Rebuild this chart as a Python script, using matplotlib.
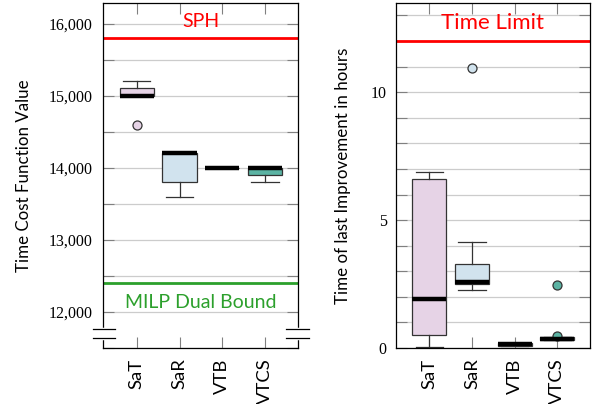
import matplotlib.pyplot as plt
import matplotlib.transforms as mtransforms
from matplotlib.ticker import MultipleLocator, FuncFormatter

categories = ["SaT", "SaR", "VTB", "VTCS"]
box_colors = ["#e6d3e6", "#d1e3ee", "#b9bfe0", "#5bb3a3"]

# time cost function value per method
cost_q1 = [15000, 13800, 14000, 13900]
cost_med = [15000, 14200, 14000, 14000]
cost_q3 = [15100, 14200, 14000, 14000]
cost_lo = [15000, 13600, 14000, 13800]
cost_hi = [15200, 14200, 14000, 14000]
cost_fliers = [[14600], [], [], []]
sph_value = 15800
milp_dual_bound = 12400

# time of last improvement (hours) per method
time_q1 = [0.5, 2.5, 0.08, 0.3]
time_med = [1.9, 2.6, 0.14, 0.36]
time_q3 = [6.6, 3.3, 0.2, 0.42]
time_lo = [0.03, 2.28, 0.08, 0.3]
time_hi = [6.9, 4.15, 0.2, 0.42]
time_fliers = [[], [10.95], [], [0.45, 2.45]]
time_limit = 12

SANS = "Lato"
SERIF = "Liberation Serif"
EDGE = "#333333"
TICKC = "#808080"


def draw_boxes(ax, q1, med, q3, lo, hi, fliers):
    stats = []
    for i, c in enumerate(categories):
        stats.append(dict(label=c, q1=q1[i], med=med[i], q3=q3[i],
                          whislo=lo[i], whishi=hi[i], fliers=fliers[i]))
    bp = ax.bxp(stats, positions=[1, 2, 3, 4], widths=0.8, capwidths=0.64,
                patch_artist=True, showfliers=True,
                boxprops=dict(edgecolor=EDGE, linewidth=0.9),
                medianprops=dict(color="black", linewidth=3.2, solid_capstyle="butt"),
                whiskerprops=dict(color=EDGE, linewidth=0.9),
                capprops=dict(color=EDGE, linewidth=0.9),
                flierprops=dict(marker="o", markersize=6.5, markeredgecolor=EDGE,
                                markeredgewidth=0.9))
    for patch, fl, col in zip(bp["boxes"], bp["fliers"], box_colors):
        patch.set_facecolor(col)
        fl.set_markerfacecolor(col)


def style_axes(ax, major, minor, pad):
    ax.set_axisbelow(True)
    ax.yaxis.set_major_locator(MultipleLocator(major))
    ax.yaxis.set_minor_locator(MultipleLocator(minor))
    ax.grid(True, axis="y", which="both", color="#cccccc", linewidth=0.9)
    ax.tick_params(axis="both", which="both", direction="in", length=8,
                   color=TICKC, width=0.8, top=True, right=True)
    ax.tick_params(axis="y", which="major", pad=pad, labelsize=11.5)
    ax.tick_params(axis="x", pad=7.5, labelsize=13.3)
    ax.set_xlim(0.21, 4.77)
    ax.set_xticks([1, 2, 3, 4])
    ax.set_xticklabels(categories, rotation=90, fontfamily=SANS)
    for sp in ax.spines.values():
        sp.set_linewidth(0.9)


fig = plt.figure(figsize=(6.0, 4.04), dpi=100)
ax1 = fig.add_axes([0.1717, 0.1386, 0.325, 0.8547])
ax2 = fig.add_axes([0.6595, 0.1386, 0.3238, 0.8547])

# left panel
draw_boxes(ax1, cost_q1, cost_med, cost_q3, cost_lo, cost_hi, cost_fliers)
ax1.set_ylim(11500, 16290)
style_axes(ax1, 1000, 500, 7.5)
ax1.yaxis.set_major_formatter(FuncFormatter(lambda v, p: f"{int(v):,}"))
for lab in ax1.get_yticklabels():
    lab.set_fontfamily(SERIF)
ax1.set_ylabel("Time Cost Function Value", fontfamily=SANS, fontsize=12.2,
               va="center", ha="center")
ax1.yaxis.set_label_coords(-0.407, 0.5)

tr1 = mtransforms.blended_transform_factory(ax1.transAxes, ax1.transData)
ax1.axhline(sph_value, color="red", linewidth=2)
ax1.axhline(milp_dual_bound, color="#2ca02c", linewidth=2)
ax1.annotate("SPH", xy=(0.5, sph_value), xycoords=tr1, xytext=(0, 7.7),
             textcoords="offset points", ha="center", va="baseline",
             color="red", fontsize=14, fontfamily=SANS)
ax1.annotate("MILP Dual Bound", xy=(0.5, milp_dual_bound), xycoords=tr1,
             xytext=(0, -17.7), textcoords="offset points", ha="center",
             va="baseline", color="#2ca02c", fontsize=14, fontfamily=SANS)

# axis break marks on both vertical spines
brk_lo, brk_hi = 11640, 11760
for xs, xe, xc in [(-0.051, 0.06, 0.0), (0.94, 1.056, 1.0)]:
    ax1.plot([xc, xc], [brk_lo, brk_hi], transform=tr1, color="white",
             linewidth=2.5, clip_on=False, zorder=6)
    for yb in (brk_lo, brk_hi):
        ax1.plot([xs, xe], [yb, yb], transform=tr1, color="black",
                 linewidth=0.9, clip_on=False, zorder=7)

# right panel
draw_boxes(ax2, time_q1, time_med, time_q3, time_lo, time_hi, time_fliers)
ax2.set_ylim(0, 13.5)
style_axes(ax2, 5, 1, 6.5)
for lab in ax2.get_yticklabels():
    lab.set_fontfamily(SERIF)
ax2.set_ylabel("Time of last Improvement in hours", fontfamily=SANS,
               fontsize=12.2, va="center", ha="center")
ax2.yaxis.set_label_coords(-0.271, 0.5)
tr2 = mtransforms.blended_transform_factory(ax2.transAxes, ax2.transData)
ax2.axhline(time_limit, color="red", linewidth=2)
ax2.annotate("Time Limit", xy=(0.5, time_limit), xycoords=tr2,
             xytext=(0, 8.9), textcoords="offset points", ha="center",
             va="baseline", color="red", fontsize=16, fontfamily=SANS)

fig.savefig("out.png", dpi=100)
